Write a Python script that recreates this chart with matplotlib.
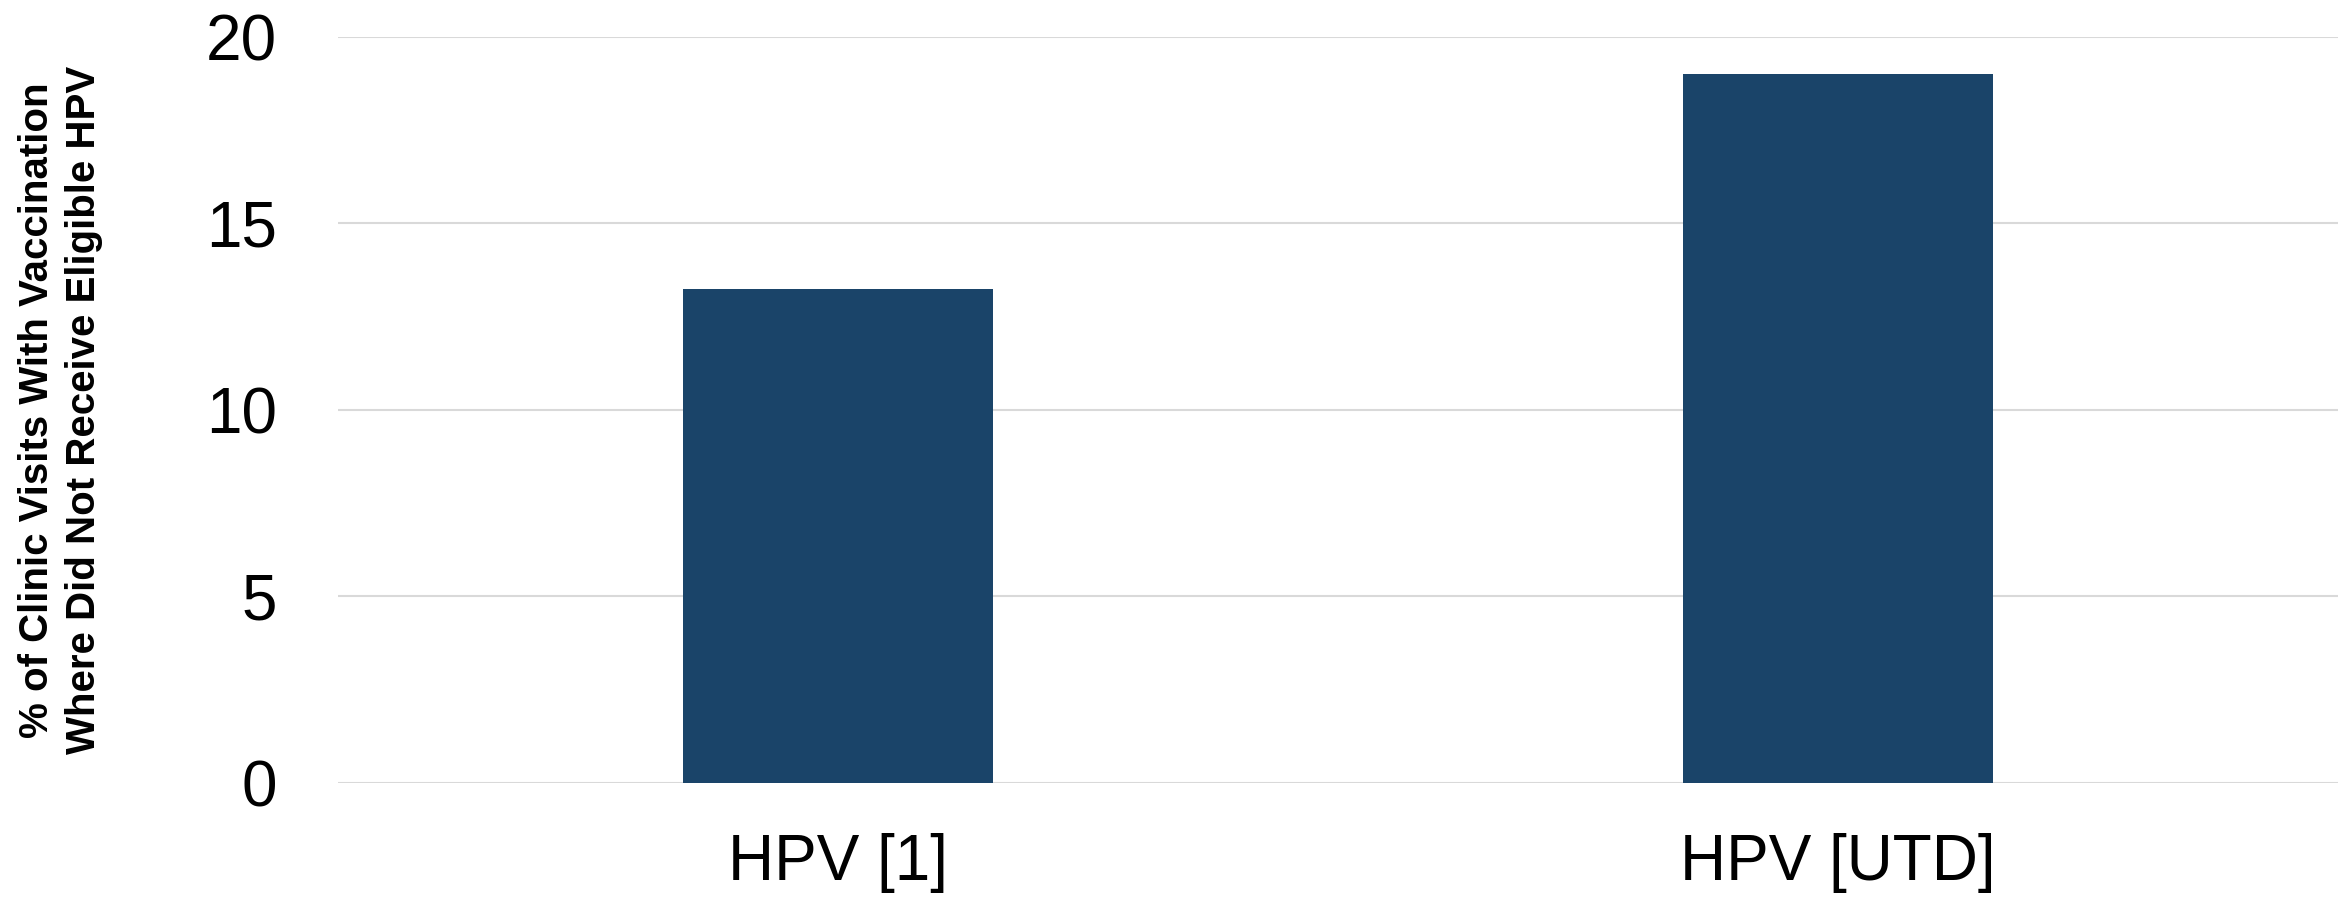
import matplotlib
matplotlib.use('Agg')
import matplotlib.pyplot as plt
from matplotlib import font_manager

# данные
categories = ['HPV [1]', 'HPV [UTD]']
values = [13.25, 19.0]
yticks = [0, 5, 10, 15, 20]

BAR_COLOR = '#1A4469'
GRID_COLOR = '#D9D9D9'

names = {f.name for f in font_manager.fontManager.ttflist}
label_family = 'Liberation Sans Narrow' if 'Liberation Sans Narrow' in names else 'Liberation Sans'

plt.rcParams['font.family'] = ['Liberation Sans', 'DejaVu Sans']

fig = plt.figure(figsize=(23.44, 9.02), dpi=100)
ax = fig.add_axes([0.1442, 0.132, 0.8532, 0.827])

ax.bar(range(len(categories)), values, width=0.31, color=BAR_COLOR, zorder=3)

ax.set_xlim(-0.5, len(categories) - 0.5)
ax.set_ylim(0, 20)
ax.set_yticks(yticks)
ax.set_xticks(range(len(categories)))
ax.set_xticklabels(categories)

ax.grid(axis='y', color=GRID_COLOR, linewidth=1.5, zorder=0)
ax.set_axisbelow(True)
for s in ax.spines.values():
    s.set_visible(False)

ax.tick_params(axis='y', length=0, labelsize=46, pad=44)
ax.tick_params(axis='x', length=0, labelsize=46, pad=36)

ax.set_ylabel('% of Clinic Visits With Vaccination\nWhere Did Not Receive Eligible HPV',
              fontsize=29, fontweight='bold', family=label_family,
              linespacing=1.3)
ax.yaxis.set_label_coords(-0.1175, 0.5)

fig.savefig('out.png', dpi=100)
